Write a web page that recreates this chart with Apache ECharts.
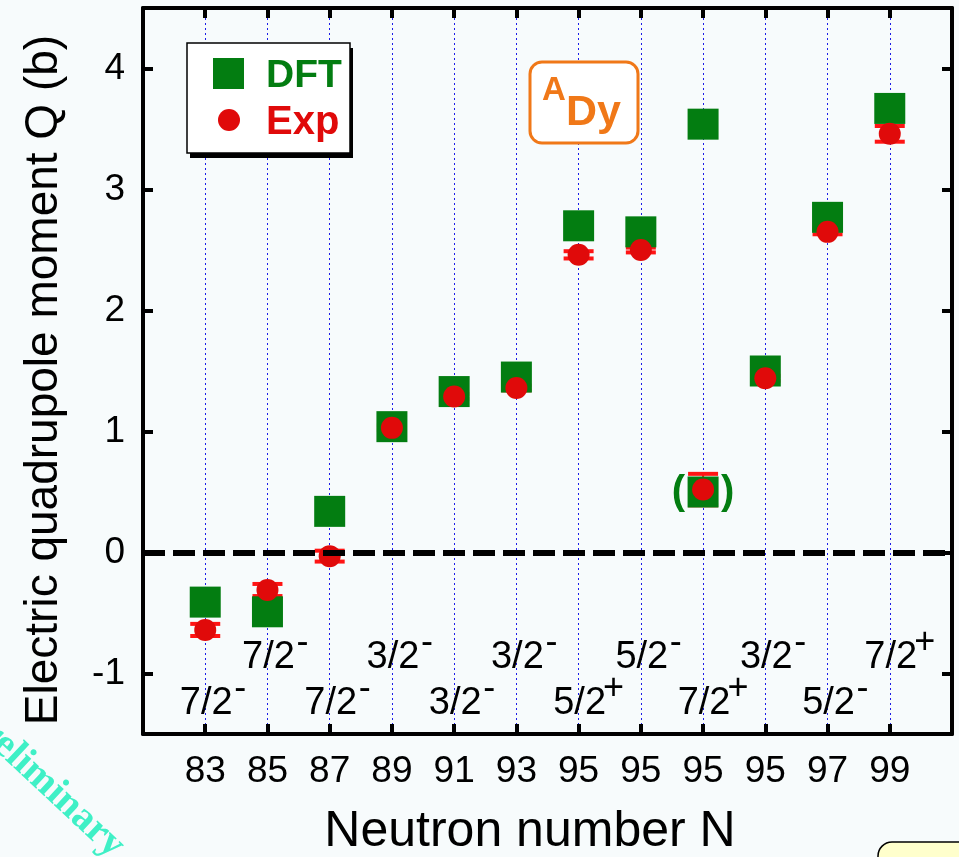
<!DOCTYPE html>
<html><head><meta charset="utf-8">
<style>html,body{margin:0;padding:0;background:#f7fbfc;}#chart{width:959px;height:857px;}</style>
<script src="https://cdn.jsdelivr.net/npm/echarts@6/dist/echarts.min.js"></script>
</head><body><div id="chart"></div>
<script>
// ---- data ----
const neutronLabels = ['83','85','87','89','91','93','95','95','95','95','97','99'];
const dftQ = [-0.41,-0.49,0.34,1.04,1.33,1.45,2.70,2.65,3.54,1.50,2.77,3.67];
const dftExtraIndex = 9;          // 1-based category of the bracketed DFT value
const dftExtraQ = 0.50;
const expQ = [-0.64,-0.31,-0.03,1.03,1.29,1.36,2.46,2.50,0.52,1.44,2.65,3.46];
const expErrPlus  = [0.05,0.05,0.045,0.02,0.02,0.02,0.03,0.02,0.13,0.02,0.02,0.065];
const expErrMinus = [0.05,0.05,0.045,0.02,0.02,0.02,0.03,0.02,0.13,0.02,0.02,0.065];
const spinValue  = ['7/2','7/2','7/2','3/2','3/2','3/2','5/2','5/2','7/2','3/2','5/2','7/2'];
const spinParity = ['-','-','-','-','-','-','+','-','+','-','-','+'];
const spinRow    = ['low','high','low','high','low','high','low','high','low','high','low','high'];
const yTickValues = [-1,0,1,2,3,4];

// ---- chart ----
const FONT = '"Liberation Sans", Arial, Helvetica, sans-serif';
const positions = neutronLabels.map((_, i) => i + 1);
const rowQ = { high: -0.87, low: -1.25 };
const GREEN = '#037d11', RED = '#e00a0a', ERR = '#ff1414', ORANGE = '#f07818';

const chart = echarts.init(document.getElementById('chart'));
const axisLine = { show: true, onZero: false, lineStyle: { color: '#000', width: 4 } };
const tickStyle = { color: '#000', width: 4 };

const option = {
  backgroundColor: '#f7fbfc',
  animation: false,
  grid: { left: 143, right: 7, top: 8, bottom: 123 },
  xAxis: [
    { type: 'value', min: 0, max: 13, interval: 1, position: 'bottom',
      axisLine: axisLine,
      axisTick: { show: true, inside: true, length: 10, lineStyle: tickStyle, customValues: positions },
      axisLabel: { customValues: positions, formatter: v => neutronLabels[v - 1],
        fontSize: 37, fontFamily: FONT, color: '#000', margin: 19 },
      splitLine: { show: true, lineStyle: { color: '#1c1ce8', type: [2, 3], width: 1 } } },
    { type: 'value', min: 0, max: 13, interval: 1, position: 'top',
      axisLine: axisLine,
      axisTick: { show: true, inside: true, length: 10, lineStyle: tickStyle, customValues: positions },
      axisLabel: { show: false }, splitLine: { show: false } }
  ],
  yAxis: [
    { type: 'value', min: -1.5, max: 4.5, interval: 0.5, position: 'left',
      axisLine: axisLine,
      axisTick: { show: true, inside: true, length: 10, lineStyle: tickStyle, customValues: yTickValues },
      axisLabel: { customValues: yTickValues, fontSize: 37, fontFamily: FONT, color: '#000', margin: 18 },
      splitLine: { show: false } },
    { type: 'value', min: -1.5, max: 4.5, interval: 0.5, position: 'right',
      axisLine: axisLine,
      axisTick: { show: true, inside: true, length: 10, lineStyle: tickStyle, customValues: yTickValues },
      axisLabel: { show: false }, splitLine: { show: false } }
  ],
  series: [
    { type: 'line', data: [], z: 1,
      markLine: { silent: true, symbol: 'none', label: { show: false },
        lineStyle: { color: '#000', width: 6, type: [22, 8], opacity: 1 },
        emphasis: { disabled: true },
        data: [{ yAxis: 0 }] } },
    { type: 'custom', name: 'err', z: 2,
      data: expQ.map((q, i) => [i + 1, q, expErrMinus[i], expErrPlus[i]]),
      renderItem: function (params, api) {
        const x = api.value(0), q = api.value(1), lo = api.value(2), hi = api.value(3);
        const pt = api.coord([x, q + hi]), pb = api.coord([x, q - lo]);
        const w = 30, h = 4;
        return { type: 'group', children: [
          { type: 'line', shape: { x1: pt[0], y1: pt[1], x2: pb[0], y2: pb[1] }, style: { stroke: ERR, lineWidth: 2 } },
          { type: 'rect', shape: { x: pt[0] - w / 2, y: pt[1] - h / 2, width: w, height: h }, style: { fill: ERR } },
          { type: 'rect', shape: { x: pb[0] - w / 2, y: pb[1] - h / 2, width: w, height: h }, style: { fill: ERR } }
        ] };
      } },
    { type: 'scatter', name: 'DFT', z: 3, symbol: 'rect', symbolSize: 31,
      itemStyle: { color: GREEN, opacity: 1 },
      data: positions.map((x, i) => [x, dftQ[i]]) },
    { type: 'scatter', name: 'DFT bracketed', z: 3, symbol: 'rect', symbolSize: 31,
      itemStyle: { color: GREEN, opacity: 1 },
      data: [[dftExtraIndex, dftExtraQ]],
      label: { show: true, position: 'inside', offset: [0, 1], textBorderWidth: 0,
        formatter: '{p|(}{g|}{p|)}',
        rich: { p: { fontSize: 40, fontWeight: 'bold', fontFamily: FONT, color: GREEN },
                g: { width: 36 } } } },
    { type: 'scatter', name: 'Exp', z: 4, symbol: 'circle', symbolSize: 22,
      itemStyle: { color: RED, opacity: 1 },
      data: positions.map((x, i) => [x, expQ[i]]) },
    { type: 'scatter', name: 'spin', z: 5, symbolSize: 0, silent: true,
      itemStyle: { color: '#000', opacity: 1 },
      data: positions.map((x, i) => [x, rowQ[spinRow[i]]]),
      label: { show: true, position: 'inside', offset: [1, 0], color: '#000', textBorderWidth: 0,
        fontSize: 38, fontFamily: FONT,
        formatter: p => spinValue[p.dataIndex] } },
    { type: 'scatter', name: 'parity', z: 5, symbolSize: 0, silent: true,
      itemStyle: { color: '#000', opacity: 1 },
      data: positions.map((x, i) => [x, rowQ[spinRow[i]]]),
      label: { show: true, position: 'inside', offset: [35, -15], color: '#000', textBorderWidth: 0,
        fontSize: 36, fontFamily: FONT,
        formatter: p => spinParity[p.dataIndex] } }
  ],
  graphic: [
    // watermark
    { type: 'text', x: -32, y: 711, rotation: -0.75, z: 0, silent: true,
      style: { text: 'Preliminary', font: 'bold 40px "Liberation Serif", "DejaVu Serif", serif', fill: '#3ff0c6', verticalAlign: 'middle' } },
    // axis titles
    { type: 'text', x: 44, y: 380, rotation: Math.PI / 2, z: 10,
      style: { text: 'Electric quadrupole moment Q (b)', font: '46px ' + FONT, fill: '#000', align: 'center', verticalAlign: 'middle' } },
    { type: 'text', x: 530, y: 832, z: 10,
      style: { text: 'Neutron number N', font: '50px ' + FONT, fill: '#000', align: 'center', verticalAlign: 'middle' } },
    // legend box
    { type: 'rect', shape: { x: 190, y: 48, width: 163, height: 110 }, style: { fill: '#000' }, z: 10 },
    { type: 'rect', shape: { x: 187, y: 43, width: 163, height: 110 }, style: { fill: '#fff', stroke: '#000', lineWidth: 1.5 }, z: 11 },
    { type: 'rect', shape: { x: 213, y: 58, width: 31, height: 31 }, style: { fill: GREEN }, z: 12 },
    { type: 'circle', shape: { cx: 229, cy: 120, r: 11 }, style: { fill: RED }, z: 12 },
    { type: 'text', x: 266, y: 76, z: 12, style: { text: 'DFT', font: 'bold 39px ' + FONT, fill: GREEN, verticalAlign: 'middle' } },
    { type: 'text', x: 266, y: 123, z: 12, style: { text: 'Exp', font: 'bold 40px ' + FONT, fill: RED, verticalAlign: 'middle' } },
    // nucleus label
    { type: 'rect', shape: { x: 530, y: 62, width: 108, height: 81, r: 12 }, style: { fill: '#fff', stroke: ORANGE, lineWidth: 3 }, z: 10 },
    { type: 'text', x: 542, y: 91, z: 11, style: { text: 'A', font: 'bold 33px ' + FONT, fill: ORANGE, verticalAlign: 'middle' } },
    { type: 'text', x: 566, y: 113, z: 11, style: { text: 'Dy', font: 'bold 43px ' + FONT, fill: ORANGE, verticalAlign: 'middle' } },
    // yellow box at bottom right
    { type: 'rect', shape: { x: 878, y: 842, width: 200, height: 100, r: 14 }, style: { fill: '#ffffcc', stroke: '#000', lineWidth: 1.5 }, z: 10 }
  ]
};
chart.setOption(option);
</script></body></html>
